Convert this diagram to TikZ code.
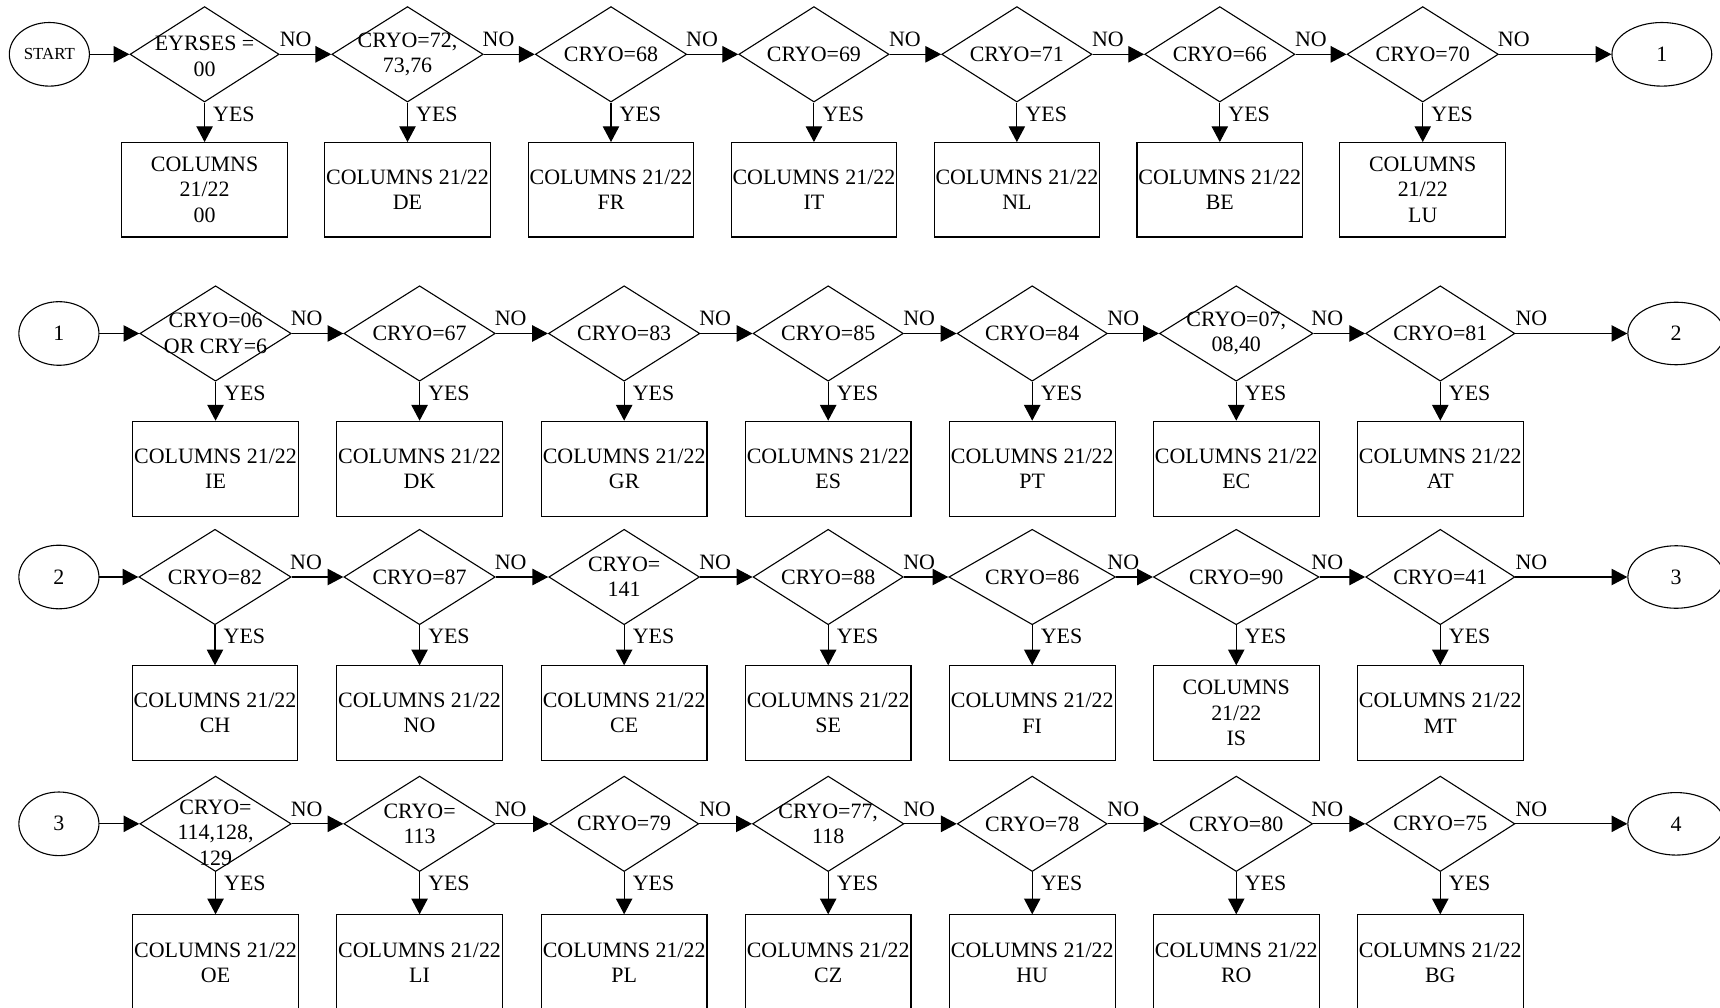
\documentclass[tikz,border=0pt]{standalone}
\usepackage{fontspec}
\setmainfont{Liberation Serif}
\usetikzlibrary{shapes.geometric,arrows.meta,calc}
\tikzset{
  dec/.style={draw, diamond, inner sep=0pt, minimum height=43.5pt, line width=0.5pt},
  dtext/.style={align=center, inner sep=0pt, font=\fontsize{10}{11.6}\selectfont},
  bx/.style={draw, rectangle, inner sep=0pt, minimum width=75.5pt, align=center, line width=0.5pt, font=\fontsize{10}{11.6}\selectfont},
  term/.style={draw, ellipse, inner sep=0pt, minimum height=29pt, line width=0.5pt, font=\fontsize{10}{11.6}\selectfont},
  arr/.style={line width=0.5pt, -{Triangle[length=7.2pt,width=7.5pt]}},
  lab/.style={inner sep=0pt, font=\fontsize{10}{11.6}\selectfont},
}
\def\rowy{0}\def\boxy{0}\def\boxh{43pt}
\newcommand\dstep[6]{%
  \node[dec, minimum width=#3pt] (d#1) at (#2,\rowy) {};
  \node[dtext] (t#1) at ($(d#1.center)+(0,#6)$) {#4};
  \node[bx, minimum height=\boxh] (b#1) at (#2,\boxy) {#5};
  \draw[arr] (d#1) -- (b#1);
  \node[lab, anchor=base west] (y#1) at ($(d#1.south)+(7.5,17)$) {YES};
  \node[lab, anchor=base] (n#1) at ($(d#1.center)+(83,-7)$) {NO};
}
\begin{document}
\begin{tikzpicture}[x=0.5pt, y=-0.5pt]
\useasboundingbox (0,0) rectangle (1568,918);
\clip (0,0) rectangle (1568,918);
% ---------------- Row 1
\def\rowy{49.5}\def\boxy{173}\def\boxh{43pt}
\node[term, minimum width=36.5pt, font=\fontsize{7.7}{8.5}\selectfont] (start) at (45,49.5) {START};
\dstep{11}{186.5}{68}{EYRSES =\\00}{COLUMNS\\21/22\\00}{2}
\dstep{12}{371.5}{69}{CRYO=72,\\73,76}{COLUMNS 21/22\\DE}{0}
\dstep{13}{557}{69}{CRYO=68}{COLUMNS 21/22\\FR}{0}
\dstep{14}{742}{68.5}{CRYO=69}{COLUMNS 21/22\\IT}{0}
\dstep{15}{927}{68.5}{CRYO=71}{COLUMNS 21/22\\NL}{0}
\dstep{16}{1112}{68.5}{CRYO=66}{COLUMNS 21/22\\BE}{0}
\dstep{17}{1297}{69}{CRYO=70}{COLUMNS\\21/22\\LU}{0}
\node[term, minimum width=45.5pt] (e1) at (1515,49.5) {1};
\draw[arr] (start) -- (d11);
\draw[arr] (d11) -- (d12);
\draw[arr] (d12) -- (d13);
\draw[arr] (d13) -- (d14);
\draw[arr] (d14) -- (d15);
\draw[arr] (d15) -- (d16);
\draw[arr] (d16) -- (d17);
\draw[arr] (d17) -- (e1);
% ---------------- Row 2
\def\rowy{304}\def\boxy{427.5}\def\boxh{43.5pt}
\node[term, minimum width=36.5pt] (s2) at (53.7,304) {1};
\dstep{21}{196.5}{69}{CRYO=06\\OR CRY=6}{COLUMNS 21/22\\IE}{0}
\dstep{22}{382.5}{69}{CRYO=67}{COLUMNS 21/22\\DK}{0}
\dstep{23}{569}{69}{CRYO=83}{COLUMNS 21/22\\GR}{0}
\dstep{24}{755}{68.5}{CRYO=85}{COLUMNS 21/22\\ES}{0}
\dstep{25}{941}{68.5}{CRYO=84}{COLUMNS 21/22\\PT}{0}
\dstep{26}{1127}{70}{CRYO=07,\\08,40}{COLUMNS 21/22\\EC}{0}
\dstep{27}{1313}{68}{CRYO=81}{COLUMNS 21/22\\AT}{0}
\node[term, minimum width=44pt, minimum height=28.5pt] (e2) at (1528,304) {2};
\draw[arr] (s2) -- (d21);
\draw[arr] (d21) -- (d22);
\draw[arr] (d22) -- (d23);
\draw[arr] (d23) -- (d24);
\draw[arr] (d24) -- (d25);
\draw[arr] (d25) -- (d26);
\draw[arr] (d26) -- (d27);
\draw[arr] (d27) -- (e2);
% ---------------- Row 3
\def\rowy{526}\def\boxy{650}\def\boxh{43pt}
\node[term, minimum width=36.5pt] (s3) at (53.7,526) {2};
\dstep{31}{196}{69.4}{CRYO=82}{COLUMNS 21/22\\CH}{0}
\dstep{32}{382.5}{69}{CRYO=87}{COLUMNS 21/22\\NO}{0}
\dstep{33}{569}{68.7}{CRYO=\\141}{COLUMNS 21/22\\CE}{0}
\dstep{34}{755}{68.5}{CRYO=88}{COLUMNS 21/22\\SE}{0}
\dstep{35}{941}{76}{CRYO=86}{COLUMNS 21/22\\FI}{0}
\dstep{36}{1127}{75.5}{CRYO=90}{COLUMNS\\21/22\\IS}{0}
\dstep{37}{1313}{68}{CRYO=41}{COLUMNS 21/22\\MT}{0}
\node[term, minimum width=44pt, minimum height=28.5pt] (e3) at (1528,526) {3};
\draw[arr] (s3) -- (d31);
\draw[arr] (d31) -- (d32);
\draw[arr] (d32) -- (d33);
\draw[arr] (d33) -- (d34);
\draw[arr] (d34) -- (d35);
\draw[arr] (d35) -- (d36);
\draw[arr] (d36) -- (d37);
\draw[arr] (d37) -- (e3);
% ---------------- Row 4
\def\rowy{751}\def\boxy{877.5}\def\boxh{43.5pt}
\node[term, minimum width=36.5pt] (s4) at (53.7,751) {3};
\dstep{41}{196.5}{69}{CRYO=\\114,128,\\129}{COLUMNS 21/22\\OE}{8}
\dstep{42}{382.5}{69}{CRYO=\\113}{COLUMNS 21/22\\LI}{0}
\dstep{43}{569}{68}{CRYO=79}{COLUMNS 21/22\\PL}{0}
\dstep{44}{755}{69}{CRYO=77,\\118}{COLUMNS 21/22\\CZ}{0}
\dstep{45}{941}{68.3}{CRYO=78}{COLUMNS 21/22\\HU}{0}
\dstep{46}{1127}{69.6}{CRYO=80}{COLUMNS 21/22\\RO}{0}
\dstep{47}{1313}{68}{CRYO=75}{COLUMNS 21/22\\BG}{0}
\node[term, minimum width=44pt, minimum height=28.5pt] (e4) at (1528,751) {4};
\draw[arr] (s4) -- (d41);
\draw[arr] (d41) -- (d42);
\draw[arr] (d42) -- (d43);
\draw[arr] (d43) -- (d44);
\draw[arr] (d44) -- (d45);
\draw[arr] (d45) -- (d46);
\draw[arr] (d46) -- (d47);
\draw[arr] (d47) -- (e4);
\end{tikzpicture}
\end{document}
